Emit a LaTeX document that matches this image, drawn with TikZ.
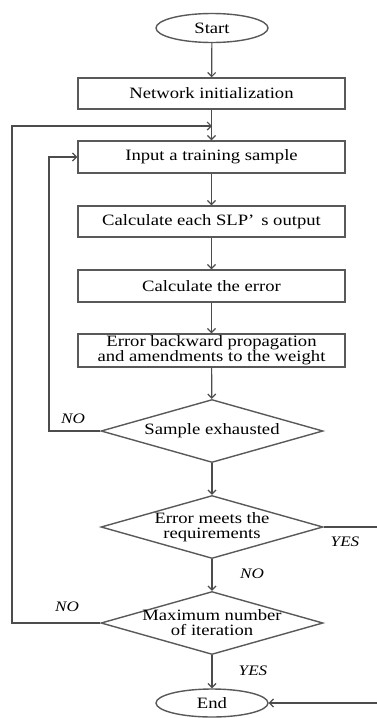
\documentclass[tikz,border=0pt]{standalone}
\usepackage{fontspec}
\setmainfont{Liberation Serif}[FakeStretch=1.18]
\usetikzlibrary{shapes.geometric,arrows.meta}
\begin{document}
\begin{tikzpicture}[x=1pt,y=-1pt,
  line/.style={draw=black!70,line width=1.2pt},
  arr/.style={line,-{Straight Barb[length=4pt,width=8pt]}},
  txt/.style={font=\fontsize{15.8}{15}\selectfont,align=center,inner sep=0pt},
  box/.style={rectangle,draw=black!65,line width=1.4pt,minimum width=267pt,inner sep=0pt,txt},
  term/.style={ellipse,draw=black!65,line width=1.4pt,minimum width=112pt,inner sep=0pt,txt},
  dec/.style={diamond,draw=black!65,line width=1.4pt,minimum width=222pt,minimum height=63pt,inner sep=0pt},
  lab/.style={font=\fontsize{14.5}{15}\selectfont\itshape,inner sep=0pt}
]
\useasboundingbox (0,0) rectangle (377,718);
\node[term,minimum height=29pt] (start) at (212,28) {Start};
\node[box,minimum height=31pt] (init) at (211.5,93.5) {Network initialization};
\node[box,minimum height=32pt] (input) at (211.5,157) {Input a training sample};
\node[box,minimum height=31pt] (slp) at (211.5,221.5) {Calculate each SLP’\hspace{7pt}s output};
\node[box,minimum height=32pt] (err) at (211.5,286) {Calculate the error};
\node[box,minimum height=33pt] (back) at (211.5,350.5) {Error backward propagation\\and amendments to the weight};
\node[dec] (samp) at (212,431) {};
\node[txt] (sampt) at (212,431) {Sample exhausted};
\node[dec] (meets) at (212,527) {};
\node[txt] (meetst) at (212,527) {Error meets the\\requirements};
\node[dec] (maxit) at (212,623) {};
\node[txt] (maxitt) at (212,623) {Maximum number\\of iteration};
\node[term,minimum height=28pt] (end) at (212,703) {End};

\coordinate (outtop) at (212,126);
\coordinate (outtl) at (12,126);
\coordinate (outbl) at (12,623);
\coordinate (intl) at (49,157);
\coordinate (inbl) at (49,431);
\coordinate (rtop) at (382,527);
\coordinate (rbot) at (382,703);

\draw[arr] (start) -- (init);
\draw[arr] (init) -- (input);
\draw[arr] (input) -- (slp);
\draw[arr] (slp) -- (err);
\draw[arr] (err) -- (back);
\draw[arr] (back) -- (samp);
\draw[arr] (samp) -- (meets);
\draw[arr] (meets) -- (maxit);
\draw[arr] (maxit) -- (end);
\draw[arr] (samp.west) -- (inbl) -- (intl) -- (input.west);
\draw[arr] (maxit.west) -- (outbl) -- (outtl) -- (outtop);
\draw[arr] (meets.east) -- (rtop) -- (rbot) -- (end.east);

\node[lab] (no1) at (73,419) {NO};
\node[lab] (yes1) at (345,542) {YES};
\node[lab] (no2) at (252,574) {NO};
\node[lab] (no3) at (67,607) {NO};
\node[lab] (yes2) at (253,671) {YES};
\end{tikzpicture}
\end{document}
